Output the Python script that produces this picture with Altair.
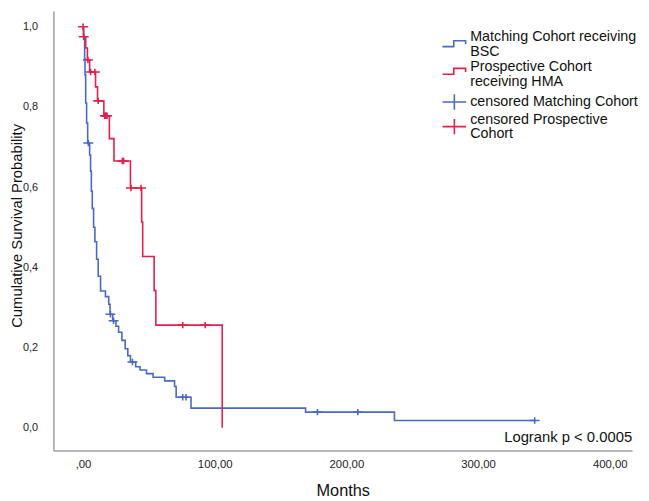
import altair as alt
import pandas as pd

BLUE = "#4a69c2"
RED = "#e41f4c"

LINE_BSC = "Matching Cohort receiving BSC"
LINE_HMA = "Prospective Cohort receiving HMA"
CENS_BSC = "censored Matching Cohort"
CENS_HMA = "censored Prospective Cohort"
LOGRANK = "Logrank p < 0.0005"

# Kaplan-Meier step points (months, survival) - Matching cohort (BSC)
bsc_t = [0, 0.5, 1.2, 1.5, 2.0, 2.7, 3.5, 5.0, 5.7, 6.3, 7.0, 8.0, 9.0, 10.3, 11.5, 13.3, 17.0,
         19.5, 20.5, 22.5, 25, 27, 29.5, 32, 34, 36, 40, 43.3, 48.2, 53.2, 62, 69.5, 70.7, 82,
         169, 236.5, 343]
bsc_s = [1.0, 0.97, 0.92, 0.88, 0.81, 0.76, 0.71, 0.68, 0.64, 0.59, 0.547, 0.50, 0.464, 0.42,
         0.378, 0.341, 0.327, 0.308, 0.283, 0.267, 0.253, 0.238, 0.218, 0.197, 0.18, 0.164,
         0.152, 0.144, 0.135, 0.126, 0.117, 0.103, 0.076, 0.049, 0.039, 0.018, 0.018]
bsc_cens_t = [4.0, 20.8, 23.2, 37.5, 75.7, 78.2, 178, 208.7, 343]
bsc_cens_s = [0.71, 0.283, 0.267, 0.164, 0.076, 0.076, 0.039, 0.039, 0.018]

# Prospective cohort (HMA)
hma_t = [0, 0.3, 2.0, 3.3, 5.0, 9.5, 11.0, 15.8, 20.0, 23.5, 36.0, 44.5, 45.3, 54.0, 55.3, 105.7]
hma_s = [1.0, 0.975, 0.947, 0.917, 0.887, 0.85, 0.815, 0.778, 0.721, 0.665, 0.598, 0.513,
         0.427, 0.342, 0.256, 0.0]
hma_cens_t = [0, 0.5, 3.7, 5.7, 9.0, 11.5, 16.5, 17.0, 17.6, 18.2, 29.8, 30.8, 36.4, 44.0, 75.7, 92.8]
hma_cens_s = [1.0, 0.975, 0.917, 0.887, 0.887, 0.815, 0.778, 0.778, 0.778, 0.778, 0.665, 0.665,
              0.598, 0.598, 0.256, 0.256]

x_ticks = [0, 100, 200, 300, 400]
y_ticks = [0.0, 0.2, 0.4, 0.6, 0.8, 1.0]

lines = pd.DataFrame({
    "t": bsc_t + hma_t,
    "s": bsc_s + hma_s,
    "label": [LINE_BSC] * len(bsc_t) + [LINE_HMA] * len(hma_t),
})
cens = pd.DataFrame({
    "t": bsc_cens_t + hma_cens_t,
    "s": bsc_cens_s + hma_cens_s,
    "label": [CENS_BSC] * len(bsc_cens_t) + [CENS_HMA] * len(hma_cens_t),
})
note = pd.DataFrame({"txt": [LOGRANK]})

FONT = "Liberation Sans"
domain = [LINE_BSC, LINE_HMA, CENS_BSC, CENS_HMA]
STEP = "M-1,0.25H-0.05V-0.25H0.95V0.05"
CROSS = "M-1,0H1M0,-0.65V0.65"
color_scale = alt.Scale(domain=domain, range=[BLUE, RED, BLUE, RED])
shape_scale = alt.Scale(domain=domain, range=[STEP, STEP, CROSS, CROSS])
xs = alt.Scale(domain=[-22.5, 417], nice=False, zero=False)
ys = alt.Scale(domain=[-0.0567, 1.039], nice=False, zero=False)

x_axis = alt.Axis(
    values=x_ticks, grid=False, ticks=False, tickSize=0, labelPadding=8,
    labelExpr="datum.value == 0 ? ',00' : replace(format(datum.value, '.2f'), '.', ',')",
    labelFontSize=11.5, labelColor="#222", labelFlush=False, labelOverlap=False,
    domainColor="#a0a0a0", domainWidth=1.5,
    title="Months", titleFontSize=16.5, titleFontWeight="normal", titleColor="#111",
    titleBaseline="alphabetic", titleY=46,
)
y_axis = alt.Axis(
    values=y_ticks, grid=False, ticks=False, tickSize=0, labelPadding=16,
    labelExpr="replace(format(datum.value, '.1f'), '.', ',')",
    labelFontSize=11, labelColor="#222", labelFlush=False, labelOverlap=False,
    domainColor="#a0a0a0", domainWidth=1.5,
    title="Cumulative Survival Probability", titleFontSize=15, titleFontWeight="normal",
    titleColor="#111", titleBaseline="bottom", titleAlign="center", titleX=-29, titleY=217,
)

label_expr = (
    "datum.label == 'Matching Cohort receiving BSC' ? ['Matching Cohort receiving', 'BSC'] : "
    "datum.label == 'Prospective Cohort receiving HMA' ? ['Prospective Cohort', 'receiving HMA'] : "
    "datum.label == 'censored Prospective Cohort' ? ['censored Prospective', 'Cohort'] : datum.label"
)
baseline_expr = (
    "datum.label == 'censored Matching Cohort' ? 'middle' : "
    "datum.label == 'Prospective Cohort receiving HMA' ? 'alphabetic' : 'bottom'"
)
legend = alt.Legend(
    title=None, orient="none", legendX=393, legendY=20, padding=0,
    labelExpr=label_expr, labelFontSize=14.5, labelFont=FONT, labelColor="#111",
    labelBaseline=alt.ExprRef(expr=baseline_expr),
    labelLimit=600, labelOffset=3, rowPadding=-1,
    symbolSize=576, symbolStrokeWidth=1.6,
)

cens_layer = alt.Chart(cens).mark_point(filled=False, size=100, strokeWidth=1.6, opacity=1).encode(
    x=alt.X("t:Q", scale=xs, axis=x_axis),
    y=alt.Y("s:Q", scale=ys, axis=y_axis),
    color=alt.Color("label:N", scale=color_scale, legend=legend),
    shape=alt.Shape("label:N", scale=shape_scale, legend=legend),
)
line_layer = alt.Chart(lines).mark_line(interpolate="step-after", strokeWidth=1.6).encode(
    x=alt.X("t:Q", scale=xs),
    y=alt.Y("s:Q", scale=ys),
    color=alt.Color("label:N", scale=color_scale, legend=None),
)
text_layer = alt.Chart(note).mark_text(align="right", baseline="middle", fontSize=15, font=FONT, color="#111").encode(
    x=alt.value(586), y=alt.value(431), text="txt:N"
)

chart = alt.layer(cens_layer, line_layer, text_layer).properties(
    width=586, height=445,
    autosize=alt.AutoSizeParams(type="none"),
    padding={"left": 46, "top": 0, "right": 9, "bottom": 48},
).configure(
    font=FONT, style={"guide-label": {"lineHeight": 15}}
).configure_view(stroke=None)

chart.save("out.html", embed_options={"renderer": "svg", "actions": False})
